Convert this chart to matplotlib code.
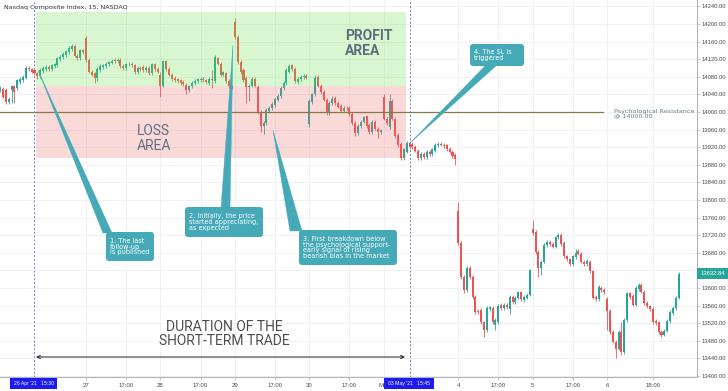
import numpy as np
import matplotlib
matplotlib.use("Agg")
import matplotlib.pyplot as plt
from matplotlib.patches import Rectangle, FancyBboxPatch, Polygon

# ---------------- data (15-min bars, index 0 = 26 Apr 13:30) ----------------
first_bar = -4
prev_open = [14050, 14052, 14050, 14022]
prev_close = [14052, 14035, 14022, 14030]
apr26_open = [14050, 14058, 14055, 14068, 14072, 14078, 14100, 14097, 14095, 14088, 14082, 14093, 14098,
              14103, 14098, 14104, 14106, 14120, 14125, 14130, 14136, 14143, 14150, 14128, 14122, 14140]
apr26_close = [14060, 14045, 14072, 14075, 14080, 14100, 14097, 14092, 14088, 14082, 14095, 14100, 14103,
               14098, 14106, 14108, 14122, 14126, 14132, 14138, 14145, 14150, 14128, 14122, 14140, 14136]
apr27_open = [14168, 14118, 14092, 14088, 14078, 14096, 14102, 14104, 14108, 14112, 14118, 14115, 14118,
              14104, 14100, 14108, 14110, 14106, 14090, 14100, 14102, 14096, 14100, 14088, 14108, 14098]
apr27_close = [14118, 14092, 14085, 14078, 14098, 14104, 14106, 14110, 14113, 14116, 14115, 14118, 14104,
               14100, 14108, 14110, 14106, 14090, 14100, 14097, 14096, 14100, 14088, 14108, 14098, 14092]
apr28_open = [14085, 14060, 14115, 14098, 14085, 14078, 14074, 14072, 14068, 14062, 14050, 14058, 14066,
              14070, 14073, 14076, 14072, 14066, 14075, 14070, 14122, 14110, 14085, 14088, 14070, 14058]
apr28_close = [14060, 14115, 14098, 14085, 14075, 14072, 14070, 14066, 14064, 14050, 14058, 14066, 14070,
               14074, 14076, 14072, 14068, 14076, 14072, 14125, 14110, 14085, 14090, 14070, 14058, 14056]
apr29_open = [14205, 14170, 14114, 14095, 14078, 14057, 14060, 14075, 14057, 14000, 13968, 13975, 14002,
              14008, 14016, 14028, 14036, 14055, 14066, 14092, 14106, 14098, 14068, 14075, 14080, 14082]
apr29_close = [14170, 14114, 14091, 14073, 14057, 14060, 14075, 14060, 14000, 13968, 13975, 14004, 14010,
               14018, 14030, 14036, 14055, 14066, 14095, 14105, 14098, 14070, 14075, 14080, 14082, 14078]
apr30_open = [13972, 14022, 14040, 14080, 14060, 14045, 14028, 13998, 14020, 14032, 14020, 14014, 14003,
              14010, 14010, 13995, 13975, 13952, 13968, 13978, 13990, 13970, 13955, 13978, 13962, 13955]
apr30_close = [14025, 14040, 14078, 14060, 14045, 14028, 13998, 14020, 14030, 14020, 14012, 14003, 14010,
               14008, 13995, 13975, 13952, 13968, 13978, 13988, 13968, 13955, 13978, 13962, 13955, 13958]
may3_open = [14035, 13985, 13965, 14025, 13985, 13948, 13928, 13895, 13910, 13930, 13928, 13920, 13912,
             13896, 13905, 13898, 13910, 13905, 13912, 13924, 13928, 13926, 13924, 13916, 13910, 13902]
may3_close = [13985, 13975, 14025, 13985, 13945, 13925, 13895, 13915, 13930, 13920, 13920, 13912, 13896,
              13905, 13898, 13910, 13905, 13915, 13926, 13928, 13926, 13922, 13916, 13910, 13900, 13893]
may4_open = [13775, 13702, 13625, 13596, 13645, 13625, 13580, 13548, 13550, 13522, 13505, 13552, 13555,
             13515, 13523, 13562, 13555, 13562, 13552, 13580, 13568, 13578, 13590, 13572, 13578, 13585]
may4_close = [13702, 13625, 13596, 13645, 13625, 13580, 13545, 13545, 13522, 13505, 13555, 13556, 13522,
              13528, 13560, 13555, 13562, 13556, 13580, 13568, 13578, 13590, 13575, 13580, 13585, 13640]
may5_open = [13735, 13728, 13682, 13645, 13660, 13698, 13704, 13700, 13694, 13715, 13720, 13702, 13672,
             13665, 13655, 13670, 13684, 13678, 13660, 13655, 13660, 13638, 13580, 13575, 13600, 13596]
may5_close = [13725, 13682, 13645, 13660, 13698, 13704, 13700, 13694, 13715, 13720, 13700, 13672, 13665,
              13655, 13672, 13680, 13678, 13660, 13655, 13662, 13638, 13578, 13575, 13602, 13596, 13590]
may6_open = [13575, 13548, 13500, 13478, 13462, 13500, 13455, 13527, 13588, 13582, 13562, 13598, 13607,
             13592, 13566, 13558, 13552, 13525, 13522, 13500, 13494, 13503, 13525, 13543, 13555, 13578]
may6_close = [13548, 13500, 13478, 13462, 13500, 13455, 13527, 13588, 13580, 13562, 13600, 13607, 13592,
              13566, 13558, 13552, 13523, 13520, 13500, 13494, 13503, 13525, 13545, 13555, 13578, 13632.84]

wick_high = {-4: 14058, 0: 14062, 21: 14154, 26: 14172, 36: 14122, 52: 14090, 70: 14095, 78: 14214,
             97: 14110, 106: 14085, 112: 14036, 130: 14040, 132: 14042, 156: 13795, 182: 13755,
             191: 13724, 197: 13688, 213: 13523, 219: 13612}
wick_low = {-2: 14018, 0: 14020, 1: 14020, 9: 14075, 29: 14066, 30: 14070, 52: 14033, 61: 14040,
            70: 14055, 82: 14020, 83: 14025, 87: 13955, 88: 13950, 104: 13965, 120: 13945, 128: 13940,
            136: 13890, 155: 13880, 158: 13588, 165: 13488, 169: 13505, 174: 13540, 184: 13625,
            185: 13630, 208: 13505, 211: 13440, 213: 13448, 227: 13488}

price_ticks = list(range(13400, 14241, 40))
day_ticks = [26, 52, 78, 104, 130, 156, 182, 208]
day_labels = ["27", "28", "29", "30", "May", "4", "5", "6"]
time_ticks = [40, 66, 92, 118, 170, 196, 224]
time_labels = ["17:00", "17:00", "17:00", "17:00", "17:00", "17:00", "18:00"]

entry_bar, exit_bar = 8, 139
entry_label, exit_label = "26 Apr '21   15:30", "03 May '21   15:45"
take_profit, entry_level, stop_loss = 14227, 14059, 13895
resistance = 14000
last_price = 13632.84

# ---------------- figure ----------------
W, H = 728, 391
fig = plt.figure(figsize=(W / 100, H / 100), dpi=100)
ax = fig.add_axes([0, 1 - 377 / H, 697 / W, 377 / H])

opens = np.array(prev_open + apr26_open + apr27_open + apr28_open + apr29_open + apr30_open +
                 may3_open + may4_open + may5_open + may6_open, dtype=float)
closes = np.array(prev_close + apr26_close + apr27_close + apr28_close + apr29_close + apr30_close +
                  may3_close + may4_close + may5_close + may6_close, dtype=float)
bars = np.arange(len(opens)) + first_bar
highs = np.maximum(opens, closes) + 4
lows = np.minimum(opens, closes) - 4
for b, v in wick_high.items():
    highs[b - first_bar] = v
for b, v in wick_low.items():
    lows[b - first_bar] = v

GREEN, RED = "#26a69a", "#ef5350"
cols = np.where(closes >= opens, GREEN, RED)
ax.vlines(bars, lows, highs, colors=cols, linewidth=0.6, zorder=3)
ax.bar(bars, np.maximum(np.abs(closes - opens), 2.0), bottom=np.minimum(opens, closes),
       width=0.7, color=cols, linewidth=0, zorder=3.1)

ax.set_xlim(-4.05, 239.4)
ax.set_ylim(13397.7, 14254.5)

# zones (drawn over candles, translucent)
zl, zr = entry_bar + 0.5, exit_bar - 1.1
ax.add_patch(Rectangle((zl, entry_level), zr - zl, take_profit - entry_level,
                       facecolor="#66e047", alpha=0.25, linewidth=0, zorder=4))
ax.add_patch(Rectangle((zl, stop_loss), zr - zl, entry_level - stop_loss,
                       facecolor="#ef6b6b", alpha=0.25, linewidth=0, zorder=4))

ax.plot([-4.05, 206.6], [resistance, resistance], color="#857a45", linewidth=0.9, zorder=5)
for b in (entry_bar, exit_bar):
    ax.axvline(b, color="#7b7be0", linestyle=(0, (2, 2)), linewidth=0.7, zorder=5)

# axes styling
ax.set_axisbelow(True)
ax.yaxis.tick_right()
ax.set_yticks(price_ticks)
ax.set_yticklabels([f"{v:.2f}" for v in price_ticks], family="Liberation Sans")
ax.set_xticks(day_ticks + time_ticks)
ax.set_xticklabels(day_labels + time_labels, family="Liberation Sans")
ax.tick_params(axis="y", labelsize=4.2, length=2, width=0.5, color="#b2b5be",
               labelcolor="#4a4a4a", pad=1.5)
ax.tick_params(axis="x", labelsize=4.3, length=2, width=0.5, color="#b2b5be",
               labelcolor="#4a4a4a", pad=2)
ax.grid(True, color="#eceff5", linewidth=0.6)
for s in ("left", "top"):
    ax.spines[s].set_visible(False)
for s in ("right", "bottom"):
    ax.spines[s].set_color("#b2b5be")
    ax.spines[s].set_linewidth(0.8)

# ---------------- overlay in pixel coordinates ----------------
ov = fig.add_axes([0, 0, 1, 1], zorder=10)
ov.set_xlim(0, W)
ov.set_ylim(H, 0)
ov.axis("off")
ov.patch.set_alpha(0)

ov.text(4, 7, "Nasdaq Composite Index, 15, NASDAQ", fontsize=4.6, color="#333333", va="center")

ov.text(345, 29, "PROFIT\nAREA", fontsize=10, family="Roboto", weight="bold", color="#5e6e80",
        va="top", ha="left", linespacing=1.05)
ov.text(137, 124, "LOSS\nAREA", fontsize=10, family="Roboto", color="#5e6e80",
        va="top", ha="left", linespacing=1.05)
ov.text(614, 113.5, "Psychological Resistance\n@ 14000.00", fontsize=4.6, color="#6b7c8d",
        va="center", ha="left", linespacing=0.95)
ov.text(224, 320, "DURATION OF THE\nSHORT-TERM TRADE", fontsize=10, family="Roboto",
        color="#4d4d4d", va="top", ha="center", linespacing=1.0)
ov.annotate("", xy=(36, 357), xytext=(405, 357),
            arrowprops=dict(arrowstyle="<->", color="#222222", lw=0.7, mutation_scale=6,
                            shrinkA=0, shrinkB=0))

CALL = "#45a9b7"
callouts = [
    ((38, 70), [(103, 233), (112, 233)], (106, 232, 48, 29), "1. The last\nfollow-up\nis published"),
    ((233, 45), [(221, 208), (230, 208)], (185, 207, 78, 30),
     "2. Initially, the price\nstarted appreciating,\nas expected"),
    ((273, 130), [(290, 231), (302, 231)], (299, 230, 98, 35),
     "3. First breakdown below\nthe psychological support-\nearly signal of rising\nbearish bias in the market"),
    ((410, 143), [(486, 65), (497, 65)], (470, 44, 54, 22), "4. The SL is\ntriggered"),
]
for tip, base, (bx, by, bw, bh), txt in callouts:
    ov.add_patch(Polygon([tip, base[0], base[1]], closed=True, facecolor=CALL, edgecolor=CALL,
                         linewidth=0.3, zorder=11))
    ov.add_patch(FancyBboxPatch((bx, by), bw, bh, boxstyle="round,pad=0,rounding_size=3",
                                facecolor=CALL, edgecolor="none", zorder=12))
    ov.text(bx + 4, by + bh / 2, txt, fontsize=4.7, color="white", va="center", ha="left",
            linespacing=0.92, zorder=13)

# date boxes on the time axis
for lbl, (bx, bw) in ((entry_label, (10, 47)), (exit_label, (384, 50))):
    ov.add_patch(Rectangle((bx, 378), bw, 11, facecolor="#1c1cf0", edgecolor="none", zorder=11))
    ov.text(bx + bw / 2, 383.5, lbl, fontsize=3.7, family="Liberation Sans", color="white",
            ha="center", va="center", zorder=12)

# last price label
ov.add_patch(Rectangle((697, 268), 31, 11, facecolor=GREEN, edgecolor="none", zorder=11))
ov.text(712.5, 273.5, f"{last_price:.2f}", fontsize=4.2, family="Liberation Sans", color="white",
        ha="center", va="center", zorder=12)

fig.savefig("out.png", dpi=100)
